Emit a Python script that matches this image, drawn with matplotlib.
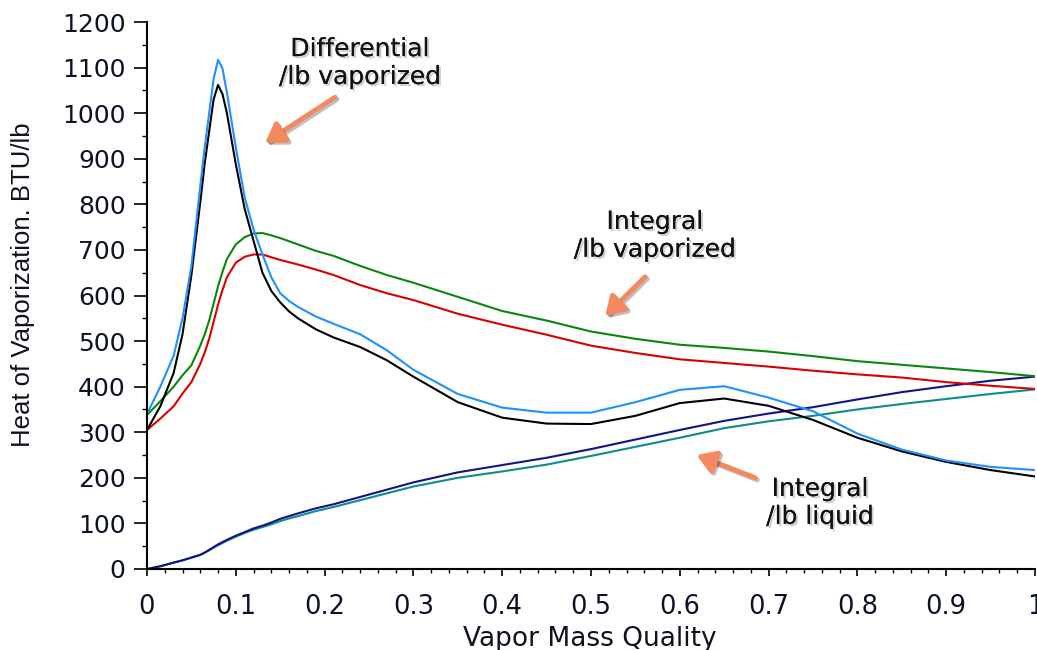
import matplotlib
matplotlib.use("Agg")
import matplotlib.pyplot as plt
import matplotlib.ticker as plticker
import matplotlib.patheffects as pe

# vapor mass quality grid shared by every curve
quality = [0, 0.015, 0.03, 0.04, 0.05, 0.06, 0.065, 0.07, 0.075, 0.08, 0.085, 0.09,
           0.10, 0.11, 0.12, 0.13, 0.14, 0.15, 0.16, 0.17, 0.19, 0.21, 0.24, 0.27,
           0.30, 0.35, 0.40, 0.45, 0.50, 0.55, 0.60, 0.65, 0.70, 0.75, 0.80, 0.85,
           0.90, 0.95, 1.00]

# differential heat per lb vaporized (two cases)
diff_a = [340, 400, 468, 550, 665, 840, 925, 1000, 1075, 1117, 1098, 1045,
          925, 815, 745, 690, 640, 605, 588, 575, 554, 538, 515, 480,
          437, 384, 354, 343, 343, 366, 393, 401, 376, 346, 297, 262,
          238, 224, 217]
diff_b = [305, 357, 430, 515, 645, 805, 890, 960, 1030, 1062, 1042, 1000,
          888, 790, 720, 650, 610, 585, 565, 550, 526, 508, 487, 458,
          422, 366, 332, 319, 318, 336, 364, 374, 358, 327, 288, 258,
          235, 217, 203]

# integral heat per lb vaporized
integ_vap_a = [338, 368, 400, 425, 447, 490, 515, 545, 582, 620, 652, 680,
               712, 728, 736, 737, 732, 726, 719, 712, 698, 687, 665, 645,
               628, 597, 566, 545, 521, 505, 492, 485, 477, 467, 456, 448,
               440, 432, 423]
integ_vap_b = [305, 330, 357, 385, 410, 450, 475, 505, 542, 580, 612, 640,
               672, 685, 690, 690, 684, 678, 673, 668, 657, 645, 623, 605,
               590, 560, 536, 514, 490, 474, 460, 452, 444, 435, 427, 420,
               410, 402, 395]

# integral heat per lb liquid
integ_liq_a = [0, 6, 14, 19, 25, 31, 36, 42, 48, 54, 59, 64,
               73, 81, 89, 95, 102, 110, 116, 122, 133, 142, 158, 174,
               190, 212, 228, 244, 263, 284, 305, 325, 341, 355, 372, 388,
               401, 413, 422]
integ_liq_b = [0, 6, 14, 19, 25, 31, 36, 41, 47, 52, 57, 62,
               71, 79, 86, 92, 98, 105, 111, 116, 127, 136, 151, 166,
               181, 200, 214, 229, 248, 268, 288, 309, 324, 336, 350, 362,
               373, 384, 394]

x_ticks = [0, 0.1, 0.2, 0.3, 0.4, 0.5, 0.6, 0.7, 0.8, 0.9, 1.0]
x_tick_labels = ["0", "0.1", "0.2", "0.3", "0.4", "0.5", "0.6", "0.7", "0.8", "0.9", "1"]

notes = [
    ("Differential\n/lb vaporized", (0.240, 1110), (0.2117, 1035), (0.133, 935)),
    ("Integral\n/lb vaporized", (0.572, 731), (0.561, 641), (0.516, 555)),
    ("Integral\n/lb liquid", (0.758, 145), (0.685, 200), (0.619, 250)),
]

fig = plt.figure(figsize=(10.37, 6.5), dpi=100)
ax = fig.add_axes([147 / 1037, 1 - 569 / 650, 888 / 1037, 547 / 650])

ax.plot(quality, integ_liq_b, color="#0E8C8C", lw=1.5)
ax.plot(quality, integ_liq_a, color="#12128A", lw=1.5)
ax.plot(quality, integ_vap_b, color="#DA0000", lw=1.5)
ax.plot(quality, integ_vap_a, color="#0A860A", lw=1.5)
ax.plot(quality, diff_b, color="#000000", lw=1.5)
ax.plot(quality, diff_a, color="#1E90FF", lw=1.5)

ax.set_xlim(0, 1)
ax.set_ylim(0, 1200)
ax.spines["top"].set_visible(False)
ax.spines["right"].set_visible(False)
for s in ("left", "bottom"):
    ax.spines[s].set_linewidth(1.5)

ax.set_xticks(x_ticks, x_tick_labels)
ax.xaxis.set_minor_locator(plticker.MultipleLocator(0.02))
ax.yaxis.set_major_locator(plticker.MultipleLocator(100))
ax.yaxis.set_minor_locator(plticker.MultipleLocator(50))

ax.tick_params(axis="y", which="major", length=9.4, width=1.2, pad=6)
ax.tick_params(axis="y", which="minor", length=3.6, width=1.0)
ax.tick_params(axis="x", which="major", length=5, width=1.2, pad=13)
ax.tick_params(axis="x", which="minor", length=3, width=1.0)

for lab in ax.get_yticklabels():
    lab.set_family("DejaVu Sans")
    lab.set_fontsize(18)
    lab.set_color("#0c1226")
for lab in ax.get_xticklabels():
    lab.set_family("DejaVu Sans")
    lab.set_fontsize(18.5)
    lab.set_color("#0c1226")

ax.set_ylabel("Heat of Vaporization. BTU/lb", family=["Liberation Sans Narrow", "Liberation Sans"],
              fontsize=18.5, color="#10101e")
ax.set_xlabel("Vapor Mass Quality", family="DejaVu Sans", fontsize=19, color="#10101e")
ax.yaxis.set_label_coords(-0.126, 0.52)
ax.xaxis.set_label_coords(0.499, -0.104)

shadow = [pe.withSimplePatchShadow(offset=(1.5, -1.5), shadow_rgbFace="#777777", alpha=0.35), pe.Normal()]
for txt, tpos, tail, head in notes:
    ax.text(tpos[0], tpos[1], txt, ha="center", va="center", fontsize=18,
            family="DejaVu Sans", color="#111111", linespacing=1.2,
            path_effects=shadow)
    ax.annotate("", xy=head, xytext=tail,
                arrowprops=dict(arrowstyle="-|>,head_length=0.55,head_width=0.35",
                                color="#F4895F", lw=3.5, mutation_scale=20,
                                shrinkA=0, shrinkB=0,
                                path_effects=[pe.SimpleLineShadow(offset=(1.5, -1.5), alpha=0.25), pe.Normal()]))

fig.savefig("out.png", dpi=100)
